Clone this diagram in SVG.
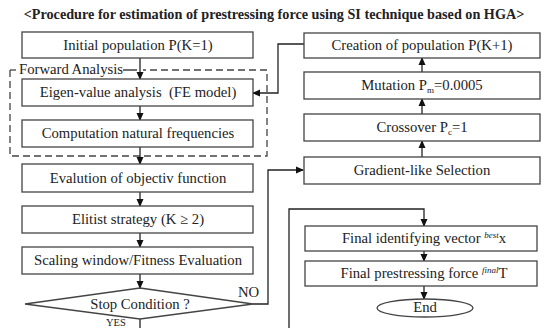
<svg xmlns="http://www.w3.org/2000/svg" width="549" height="328" viewBox="0 0 549 328" font-family="'Liberation Serif', 'DejaVu Serif', 'Times New Roman', serif">
<style>
text{font-family:'Liberation Serif','DejaVu Serif','Times New Roman',serif;font-size:14.7px;fill:#222;}
.t{text-anchor:middle;}
.title{font-weight:bold;font-size:14.2px;text-anchor:middle;}
.box{fill:#fff;stroke:#444;stroke-width:1.3;}
.ln{fill:none;stroke:#222;stroke-width:1.3;}
.dash{fill:none;stroke:#444;stroke-width:1.3;stroke-dasharray:7,4;}
.sub{font-size:9px;}
</style>
<defs>
<marker id="ah" markerWidth="8" markerHeight="8" refX="7" refY="4" orient="auto" markerUnits="userSpaceOnUse">
<path d="M0,0.5 L8,4 L0,7.5 z" fill="#111"/>
</marker>
</defs>
<rect width="549" height="328" fill="#fff"/>
<text class="title" x="274" y="19">&lt;Procedure for estimation of prestressing force using SI technique based on HGA&gt;</text>

<g id="forward-analysis">
<path class="dash" d="M10,70 L10,156 L267,156 L267,70 L143,70"/>
<path class="dash" d="M10,70 L16,70"/>
<path class="ln" d="M123,70 L137,70"/>
<text x="19" y="74">Forward Analysis</text>
</g>

<g id="connectors">
<line class="ln" x1="140" y1="58" x2="140" y2="79" marker-end="url(#ah)"/>
<line class="ln" x1="140" y1="106" x2="140" y2="120" marker-end="url(#ah)"/>
<line class="ln" x1="140" y1="147" x2="140" y2="164" marker-end="url(#ah)"/>
<line class="ln" x1="140" y1="192" x2="140" y2="206" marker-end="url(#ah)"/>
<line class="ln" x1="140" y1="233" x2="140" y2="247" marker-end="url(#ah)"/>
<line class="ln" x1="140" y1="274" x2="140" y2="288" marker-end="url(#ah)"/>
<line class="ln" x1="140" y1="319" x2="140" y2="328"/>
<polyline class="ln" points="253,304 268,304 268,170 303,170" marker-end="url(#ah)"/>
<line class="ln" x1="422" y1="157" x2="422" y2="141" marker-end="url(#ah)"/>
<line class="ln" x1="422" y1="114" x2="422" y2="99" marker-end="url(#ah)"/>
<line class="ln" x1="422" y1="72" x2="422" y2="58" marker-end="url(#ah)"/>
<polyline class="ln" points="304,44 278,44 278,93 253,93" marker-end="url(#ah)"/>
<polyline class="ln" points="289,328 289,209 424,209 424,226" marker-end="url(#ah)"/>
<line class="ln" x1="424" y1="251" x2="424" y2="261" marker-end="url(#ah)"/>
<line class="ln" x1="424" y1="286" x2="424" y2="299" marker-end="url(#ah)"/>
<text x="238" y="297">NO</text>
<text x="106" y="326" style="font-size:10.5px">YES</text>
</g>

<g id="initial-population">
<rect class="box" x="22" y="32" width="231" height="26"/>
<text class="t" x="138" y="50">Initial population P(K=1)</text>
</g>
<g id="eigen-value">
<rect class="box" x="22" y="79" width="231" height="27"/>
<text class="t" x="138" y="97" xml:space="preserve">Eigen-value analysis  (FE model)</text>
</g>
<g id="computation">
<rect class="box" x="22" y="120" width="231" height="27"/>
<text class="t" x="138" y="138">Computation natural frequencies</text>
</g>
<g id="evaluation">
<rect class="box" x="22" y="164" width="231" height="28"/>
<text class="t" x="138" y="183">Evalution of objectiv function</text>
</g>
<g id="elitist">
<rect class="box" x="22" y="206" width="231" height="27"/>
<text class="t" x="138" y="224">Elitist strategy (K ≥ 2)</text>
</g>
<g id="scaling">
<rect class="box" x="22" y="247" width="231" height="27"/>
<text class="t" x="138" y="265">Scaling window/Fitness Evaluation</text>
</g>
<g id="stop-condition">
<polygon class="box" points="140,288 253,304 140,319 25,304"/>
<text class="t" x="140" y="309">Stop Condition ?</text>
</g>

<g id="creation">
<rect class="box" x="304" y="33" width="236" height="25"/>
<text class="t" x="422" y="50">Creation of population P(K+1)</text>
</g>
<g id="mutation">
<rect class="box" x="304" y="72" width="236" height="27"/>
<text class="t" x="422" y="90">Mutation P<tspan class="sub" dy="3">m</tspan><tspan dy="-3">=0.0005</tspan></text>
</g>
<g id="crossover">
<rect class="box" x="304" y="114" width="236" height="27"/>
<text class="t" x="422" y="132">Crossover P<tspan class="sub" dy="3">c</tspan><tspan dy="-3">=1</tspan></text>
</g>
<g id="gradient">
<rect class="box" x="304" y="157" width="236" height="27"/>
<text class="t" x="422" y="175">Gradient-like Selection</text>
</g>

<g id="final-vector">
<rect class="box" x="305" y="226" width="232" height="25"/>
<text class="t" x="424" y="243">Final identifying vector <tspan class="sub" font-style="italic" dy="-5">best</tspan><tspan dy="5">x</tspan></text>
</g>
<g id="final-force">
<rect class="box" x="305" y="261" width="232" height="25"/>
<text class="t" x="424" y="278">Final prestressing force <tspan class="sub" font-style="italic" dy="-5">final</tspan><tspan dy="5">T</tspan></text>
</g>
<g id="end">
<ellipse class="box" cx="425" cy="308" rx="48" ry="9"/>
<text class="t" x="425" y="312">End</text>
</g>
</svg>
